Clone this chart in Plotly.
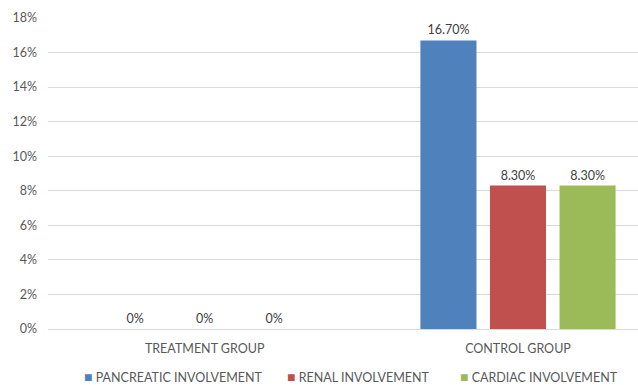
import plotly.graph_objects as go

categories = ["TREATMENT GROUP", "CONTROL GROUP"]
series_names = ["PANCREATIC INVOLVEMENT", "RENAL INVOLVEMENT", "CARDIAC INVOLVEMENT"]
pancreatic = [0.0, 0.167]
renal = [0.0, 0.083]
cardiac = [0.0, 0.083]
pancreatic_labels = ["0%", "16.70%"]
renal_labels = ["0%", "8.30%"]
cardiac_labels = ["0%", "8.30%"]
colors = ["#4f81bd", "#c0504d", "#9bbb59"]
tick_vals = [0, 0.02, 0.04, 0.06, 0.08, 0.10, 0.12, 0.14, 0.16, 0.18]
tick_text = ["0%", "2%", "4%", "6%", "8%", "10%", "12%", "14%", "16%", "18%"]

FONT = "Lato, 'Open Sans', sans-serif"
L, R, T, B = 48, 0, 18, 56
W, H = 638, 385
PW = W - L - R

fig = go.Figure()
for name, vals, labels, col in zip(series_names, [pancreatic, renal, cardiac],
                                    [pancreatic_labels, renal_labels, cardiac_labels], colors):
    fig.add_trace(go.Bar(
        x=[0, 1], y=vals, name=name, marker_color=col, marker_line_width=0,
        text=labels, textposition="outside", cliponaxis=False,
        textfont=dict(family=FONT, size=12.5, color="#404040"),
        showlegend=False,
    ))

# manual legend (colored square + label), positions in pixels
legend_x_px = [83, 286, 459]
annotations = []
for name, col, xp in zip(series_names, colors, legend_x_px):
    annotations.append(dict(
        xref="paper", yref="paper",
        x=(xp - L) / PW, y=-(376 - (H - B)) / (H - T - B),
        xanchor="left", yanchor="middle", showarrow=False, borderpad=0,
        text=f"<span style='color:{col};font-size:14px'>■</span> {name}",
        font=dict(family=FONT, size=12.5, color="#595959"),
    ))

fig.update_layout(
    width=W, height=H,
    margin=dict(l=L, r=R, t=T, b=B, autoexpand=False),
    paper_bgcolor="white", plot_bgcolor="white",
    barmode="group", bargap=0.334, bargroupgap=0.194,
    font=dict(family=FONT, size=12.5, color="#595959"),
    showlegend=False,
    annotations=annotations,
    xaxis=dict(tickmode="array", tickvals=[0, 1], ticktext=categories,
               range=[-0.5, 1.383], showgrid=False, zeroline=False,
               showline=False, ticks="", ticklabelstandoff=10,
               tickfont=dict(size=12.5, color="#595959")),
    yaxis=dict(range=[0, 0.18], tickmode="array", tickvals=tick_vals, ticktext=tick_text,
               showgrid=True, gridcolor="#d9d9d9", gridwidth=1, zeroline=True,
               zerolinecolor="#d9d9d9", zerolinewidth=1, ticks="", ticklabelstandoff=10,
               tickfont=dict(size=12.5, color="#595959")),
)

fig.write_html("out.html")
